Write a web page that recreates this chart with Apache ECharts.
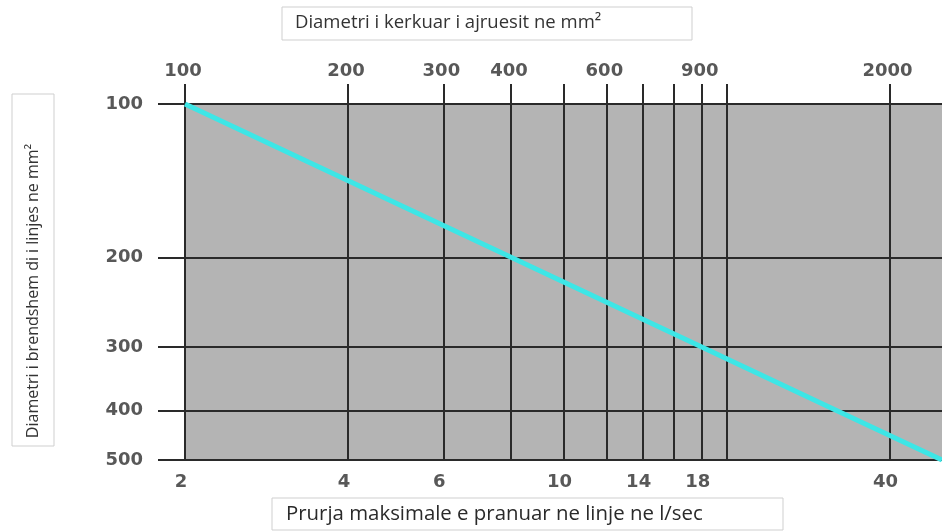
<!DOCTYPE html>
<html>
<head>
<meta charset="utf-8">
<script src="https://cdn.jsdelivr.net/npm/echarts@6/dist/echarts.min.js"></script>
<style>html,body{margin:0;padding:0;background:#fff}#c{width:942px;height:531px}</style>
</head>
<body>
<div id="c"></div>
<script>
// Flow (l/s) bottom axis
var flowLabels = [2, 4, 6, 10, 14, 18, 40];
var flowGrid = [2, 4, 6, 8, 10, 12, 14, 16, 18, 20, 40];
// Required vent area (mm²) top axis
var areaLabels = [100, 200, 300, 400, 600, 900, 2000];
var areaGrid = [100, 200, 300, 400, 500, 600, 700, 800, 900, 1000, 2000];
// Inner pipe diameter (left axis)
var diamLabels = [100, 200, 300, 400, 500];
// Line series
var lineFlow = [2, 8, 18, 32, 50];
var lineDiam = [100, 200, 300, 400, 500];

var chart = echarts.init(document.getElementById('c'), null, {renderer: 'canvas'});
function labelFont(extra) {
  return Object.assign({color: '#585858', fontSize: 18, fontWeight: 'bold', fontFamily: 'DejaVu Sans',
    formatter: function (v) { return String(v); }}, extra);
}
var gridColor = '#2a2a2a';

var option = {
  animation: false,
  grid: {left: 185, top: 104, right: 0, bottom: 71, show: true, backgroundColor: '#b4b4b4', borderWidth: 0},
  xAxis: [
    {
      type: 'log', logBase: 10, min: 2, max: 50, position: 'bottom',
      axisLine: {show: true, lineStyle: {color: gridColor, width: 2}},
      axisTick: {show: false, customValues: flowGrid},
      axisLabel: labelFont({customValues: flowLabels, margin: 13, padding: [0, 8, 0, 0]}),
      splitLine: {show: false}
    },
    {
      type: 'log', logBase: 10, min: 100, max: 2500, position: 'top',
      axisLine: {show: false},
      axisTick: {show: true, customValues: areaGrid, length: 20, lineStyle: {color: gridColor, width: 2}},
      axisLabel: labelFont({customValues: areaLabels, margin: 24, padding: [0, 4, 0, 0]}),
      splitLine: {show: true, lineStyle: {color: gridColor, width: 2}}
    }
  ],
  yAxis: [
    {
      type: 'log', logBase: 10, min: 100, max: 500, inverse: true,
      axisLine: {show: true, lineStyle: {color: gridColor, width: 2}},
      axisTick: {show: true, customValues: diamLabels, length: 27, lineStyle: {color: gridColor, width: 2}},
      axisLabel: labelFont({customValues: diamLabels, margin: 42}),
      splitLine: {show: true, lineStyle: {color: gridColor, width: 2}}
    }
  ],
  graphic: [
    {type: 'rect', shape: {x: 282, y: 7, width: 410, height: 33}, style: {fill: '#fff', stroke: '#cfcfcf', lineWidth: 1}},
    {type: 'text', x: 295, y: 23, style: {text: 'Diametri i kerkuar i ajruesit ne mm²', fill: '#333', font: '18.5px "Open Sans"', textVerticalAlign: 'middle'}},
    {type: 'rect', shape: {x: 272, y: 498, width: 511, height: 32}, style: {fill: '#fff', stroke: '#cfcfcf', lineWidth: 1}},
    {type: 'text', x: 286, y: 514, style: {text: 'Prurja maksimale e pranuar ne linje ne l/sec', fill: '#2a2a2a', font: '20.4px "Open Sans"', textVerticalAlign: 'middle'}},
    {type: 'rect', shape: {x: 12, y: 94, width: 42, height: 352}, style: {fill: '#fff', stroke: '#cfcfcf', lineWidth: 1}},
    {type: 'text', x: 33, y: 291, rotation: Math.PI / 2, style: {text: 'Diametri i brendshem di i linjes ne mm²', fill: '#333', font: '16px "Open Sans"', textAlign: 'center', textVerticalAlign: 'middle'}}
  ],
  series: [{
    type: 'line', xAxisIndex: 0, yAxisIndex: 0, symbol: 'none',
    lineStyle: {color: '#3de6e6', width: 5},
    data: lineFlow.map(function (q, i) { return [q, lineDiam[i]]; }),
    z: 5
  }]
};
chart.setOption(option);
</script>
</body>
</html>
